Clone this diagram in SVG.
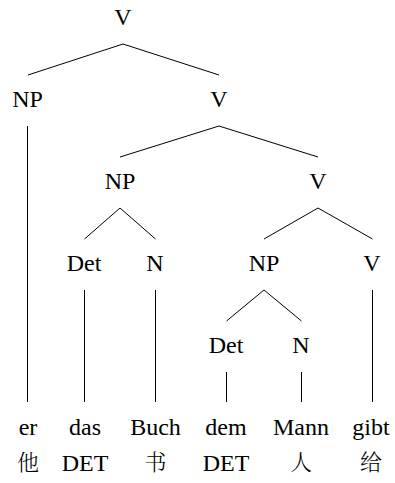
<svg xmlns="http://www.w3.org/2000/svg" width="395" height="483" viewBox="0 0 395 483">
<style>
text{font-family:"Liberation Serif","Noto Serif","DejaVu Serif",FreeSerif,serif;font-size:24px;fill:#000;text-anchor:middle}
text.cjk{font-family:"Noto Serif CJK SC","Noto Sans CJK SC",sans-serif;font-size:22px;font-weight:300}
#edges line{stroke:#000;stroke-width:1}
</style>
<rect width="395" height="483" fill="#fff"/>
<g id="edges">
<line x1="123" y1="44" x2="28" y2="75"/>
<line x1="123" y1="44" x2="219" y2="75"/>
<line x1="27.5" y1="126" x2="27.5" y2="402"/>
<line x1="219" y1="126" x2="120" y2="157"/>
<line x1="219" y1="126" x2="318" y2="157"/>
<line x1="120" y1="208" x2="84.5" y2="239"/>
<line x1="120" y1="208" x2="155.5" y2="239"/>
<line x1="318" y1="208" x2="264" y2="239"/>
<line x1="318" y1="208" x2="372.5" y2="239"/>
<line x1="84.5" y1="290" x2="84.5" y2="402"/>
<line x1="155.5" y1="290" x2="155.5" y2="402"/>
<line x1="372.5" y1="290" x2="372.5" y2="402"/>
<line x1="264" y1="290" x2="226.5" y2="321"/>
<line x1="264" y1="290" x2="301.5" y2="321"/>
<line x1="226.5" y1="372" x2="226.5" y2="402"/>
<line x1="301.5" y1="372" x2="301.5" y2="402"/>
</g>
<g id="v1"><text x="123" y="25">V</text></g>
<g id="np1"><text x="27.5" y="107">NP</text></g>
<g id="v2"><text x="219" y="107">V</text></g>
<g id="np2"><text x="120" y="189">NP</text></g>
<g id="v3"><text x="318" y="189">V</text></g>
<g id="det1"><text x="84" y="271">Det</text></g>
<g id="n1"><text x="155" y="271">N</text></g>
<g id="np3"><text x="264" y="271">NP</text></g>
<g id="v4"><text x="372" y="271">V</text></g>
<g id="det2"><text x="226" y="353">Det</text></g>
<g id="n2"><text x="301" y="353">N</text></g>
<g id="w-er"><text x="28" y="435">er</text><text class="cjk" x="28" y="470">他</text></g>
<g id="w-das"><text x="85" y="435">das</text><text x="85" y="471">DET</text></g>
<g id="w-buch"><text x="155.5" y="435">Buch</text><text class="cjk" x="155.5" y="470">书</text></g>
<g id="w-dem"><text x="226" y="435">dem</text><text x="226" y="471">DET</text></g>
<g id="w-mann"><text x="301" y="435">Mann</text><text class="cjk" x="301" y="470">人</text></g>
<g id="w-gibt"><text x="371" y="435">gibt</text><text class="cjk" x="371" y="470">给</text></g>
</svg>
